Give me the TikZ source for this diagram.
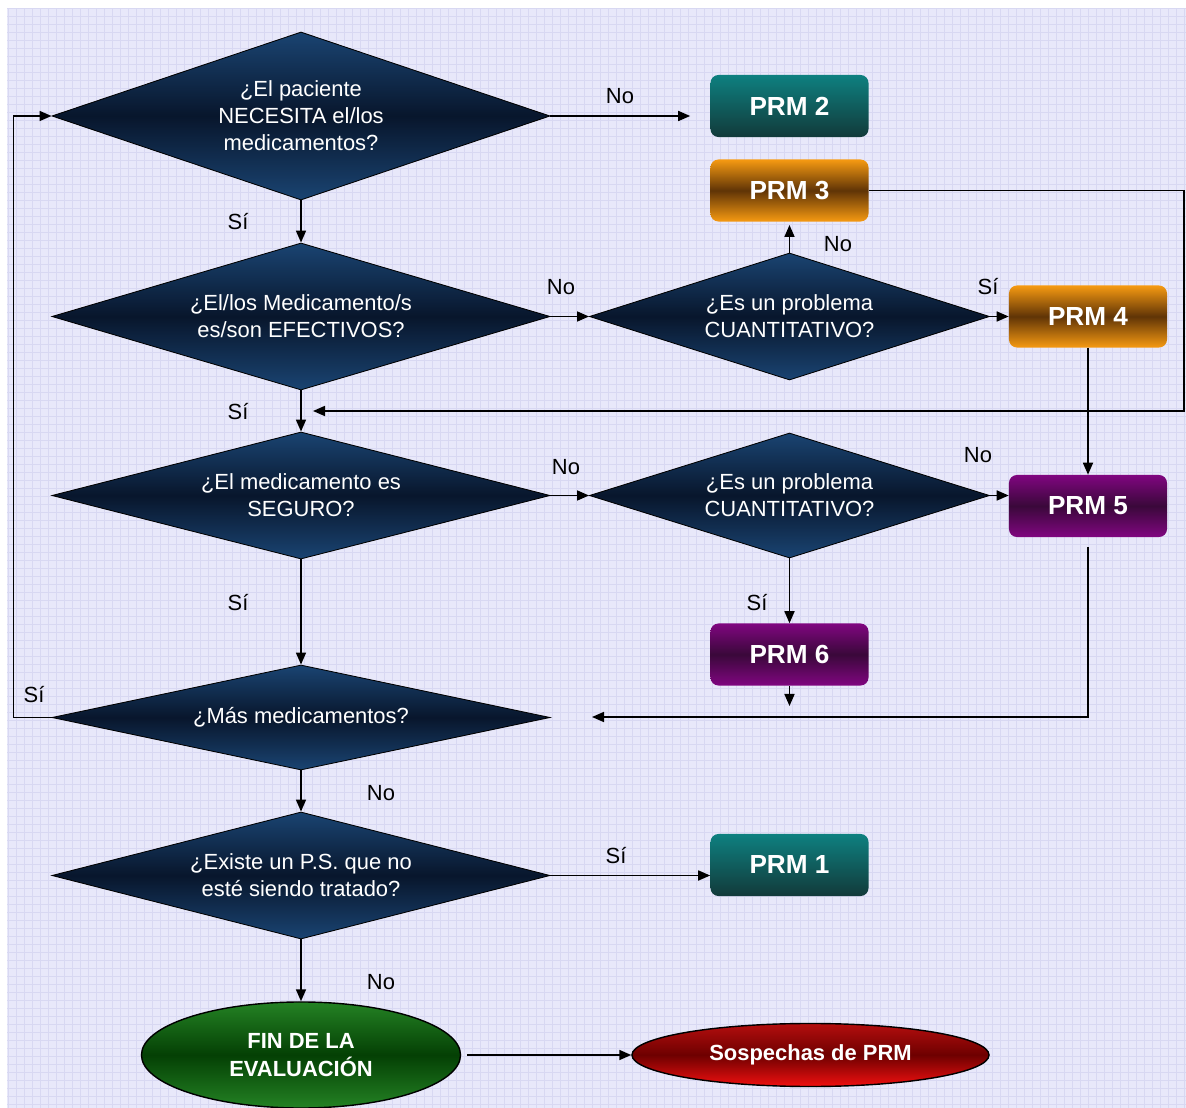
\documentclass[tikz,border=0pt]{standalone}
\usepackage{fontspec}
\setmainfont{Liberation Sans}
\usetikzlibrary{shapes.geometric,arrows.meta}

\definecolor{fondo}{RGB}{232,232,250}
\definecolor{rejilla}{RGB}{216,216,242}
\definecolor{azulA}{RGB}{26,68,114}
\definecolor{azulB}{RGB}{8,22,44}
\definecolor{tealA}{RGB}{14,128,128}
\definecolor{tealB}{RGB}{18,58,58}
\definecolor{naranjaA}{RGB}{246,154,18}
\definecolor{naranjaB}{RGB}{96,52,6}
\definecolor{moradoA}{RGB}{128,6,128}
\definecolor{moradoB}{RGB}{58,8,58}
\definecolor{verdeA}{RGB}{36,130,36}
\definecolor{verdeB}{RGB}{4,64,4}
\definecolor{rojoA}{RGB}{180,14,14}
\definecolor{rojoB}{RGB}{110,0,0}
\definecolor{rojoC}{RGB}{240,16,16}

\begin{document}
\begin{tikzpicture}[x=0.025cm, y=-0.025cm]

% Fondo
\useasboundingbox (0,0) rectangle (1186,1108);
\fill[white] (0,0) rectangle (1186,1108);
\fill[fondo] (7,8) rectangle (1186,1108);
\draw[rejilla, line width=0.2pt, step=0.2cm] (7,8) grid (1186,1108);

% Nodos Preguntas
\begin{scope}[
		every node/.style = {shape = diamond, draw = black, line width = 0.6pt,
		aspect = 3, inner sep = 0pt, top color = azulA, bottom color = azulA,
		middle color = azulB, text = white, align = center,
		font = \fontsize{15.6}{19.2}\selectfont}]
	\node[minimum width = 12.45cm, minimum height = 4.2cm] (D1) at (301,116)
		{¿El paciente\\NECESITA el/los\\medicamentos?};
	\node[minimum width = 12.45cm, minimum height = 3.675cm] (D2) at (301,316.5)
		{¿El/los Medicamento/s\\es/son EFECTIVOS?};
	\node[minimum width = 12.45cm, minimum height = 3.175cm] (D3) at (301,495.5)
		{¿El medicamento es\\SEGURO?};
	\node[minimum width = 12.45cm, minimum height = 2.625cm] (D4) at (301,717.5)
		{¿Más medicamentos?};
	\node[minimum width = 10cm, minimum height = 3.175cm] (D5) at (789.5,316.5)
		{¿Es un problema\\CUANTITATIVO?};
	\node[minimum width = 10cm, minimum height = 3.125cm] (D6) at (789.5,495.5)
		{¿Es un problema\\CUANTITATIVO?};
	\node[minimum width = 12.45cm, minimum height = 3.175cm] (D7) at (301,875.5)
		{¿Existe un P.S. que no\\esté siendo tratado?};
\end{scope}

% Nodos PRM
\begin{scope}[
		every node/.style = {shape = rectangle, rounded corners = 0.2cm,
		minimum width = 3.95cm, minimum height = 1.55cm, text = white,
		font = \bfseries\fontsize{18.6}{22}\selectfont},
		prmteal/.style = {top color = tealA, bottom color = tealB},
		prmnaranja/.style = {top color = naranjaA, bottom color = naranjaA,
			middle color = naranjaB},
		prmmorado/.style = {top color = moradoA, bottom color = moradoA,
			middle color = moradoB}]
	\node[prmteal] (PRM2) at (789.5,106) {PRM 2};
	\node[prmnaranja] (PRM3) at (789.5,190.5) {PRM 3};
	\node[prmnaranja] (PRM4) at (1088,316.5) {PRM 4};
	\node[prmmorado] (PRM5) at (1088,506) {PRM 5};
	\node[prmmorado] (PRM6) at (789.5,654.5) {PRM 6};
	\node[prmteal] (PRM1) at (789.5,865) {PRM 1};
\end{scope}

% Nodos Final
\begin{scope}[
		every node/.style = {shape = ellipse, draw = black, line width = 1pt,
		inner sep = 0pt, text = white, align = center,
		font = \bfseries\fontsize{15.6}{20}\selectfont}]
	\node[minimum width = 7.975cm, minimum height = 2.65cm,
		top color = verdeA, bottom color = verdeA, middle color = verdeB]
		(FIN) at (301,1055) {FIN DE LA\\EVALUACIÓN};
	\node[minimum width = 8.925cm, minimum height = 1.575cm,
		top color = rojoA, bottom color = rojoC, middle color = rojoB]
		(SOS) at (810.5,1055) {Sospechas de PRM};
\end{scope}

% Puntos sueltos
\coordinate (rx) at (1184,411);
\coordinate (m1) at (313,411);
\coordinate (m2) at (592,717);
\coordinate (p6) at (789.5,706);

% Paths
\begin{scope}[
		flecha/.style = {draw = black, line width = 1.2pt,
			-{Triangle[length = 0.3cm, width = 0.25cm]}},
	    every edge/.style = {flecha}]
	\path (D1.east) edge[shorten >= 0.5cm] (D1.east -| PRM2.west);
	\path (D1.south) edge (D2.north);
	\path (D2.east) edge (D5.west);
	\path (D5.north) edge[shorten >= 0.08cm] (PRM3.south);
	\path (D5.east) edge (PRM4.west);
	\path (PRM4.south) edge (PRM5.north);
	\path (D2.south) edge (D3.north);
	\path (D3.east) edge (D6.west);
	\path (D6.east) edge (D6.east -| PRM5.west);
	\path (D6.south) edge (PRM6.north);
	\path (PRM6.south) edge (p6);
	\path (D3.south) edge (D4.north);
	\path (D4.south) edge (D7.north);
	\path (D7.east) edge (D7.east -| PRM1.west);
	\path (D7.south) edge (FIN.north);
	\path (FIN.east) edge[shorten <= 0.15cm] (SOS.west);
	\draw[flecha] (PRM3.east) -| (rx) -- (m1);
	\draw[flecha] ([yshift = -0.25cm]PRM5.south) |- (m2);
	\draw[flecha] (D4.west) -- ++(-38,0) |- (D1.west);
\end{scope}

% Etiquetas
\begin{scope}[
		every node/.style = {text = black,
		font = \fontsize{15.6}{19}\selectfont}]
	\node (n1) at (620,96) {No};
	\node (s1) at (238,222) {Sí};
	\node (n2) at (561,287) {No};
	\node (n3) at (838,244) {No};
	\node (s2) at (988,287) {Sí};
	\node (s3) at (238,412) {Sí};
	\node (n4) at (566,467) {No};
	\node (n5) at (978,455) {No};
	\node (s4) at (238,603) {Sí};
	\node (s5) at (757,603) {Sí};
	\node (s6) at (34,695) {Sí};
	\node (n6) at (381,793) {No};
	\node (s7) at (616,856) {Sí};
	\node (n7) at (381,982) {No};
\end{scope}
\end{tikzpicture}
\end{document}
